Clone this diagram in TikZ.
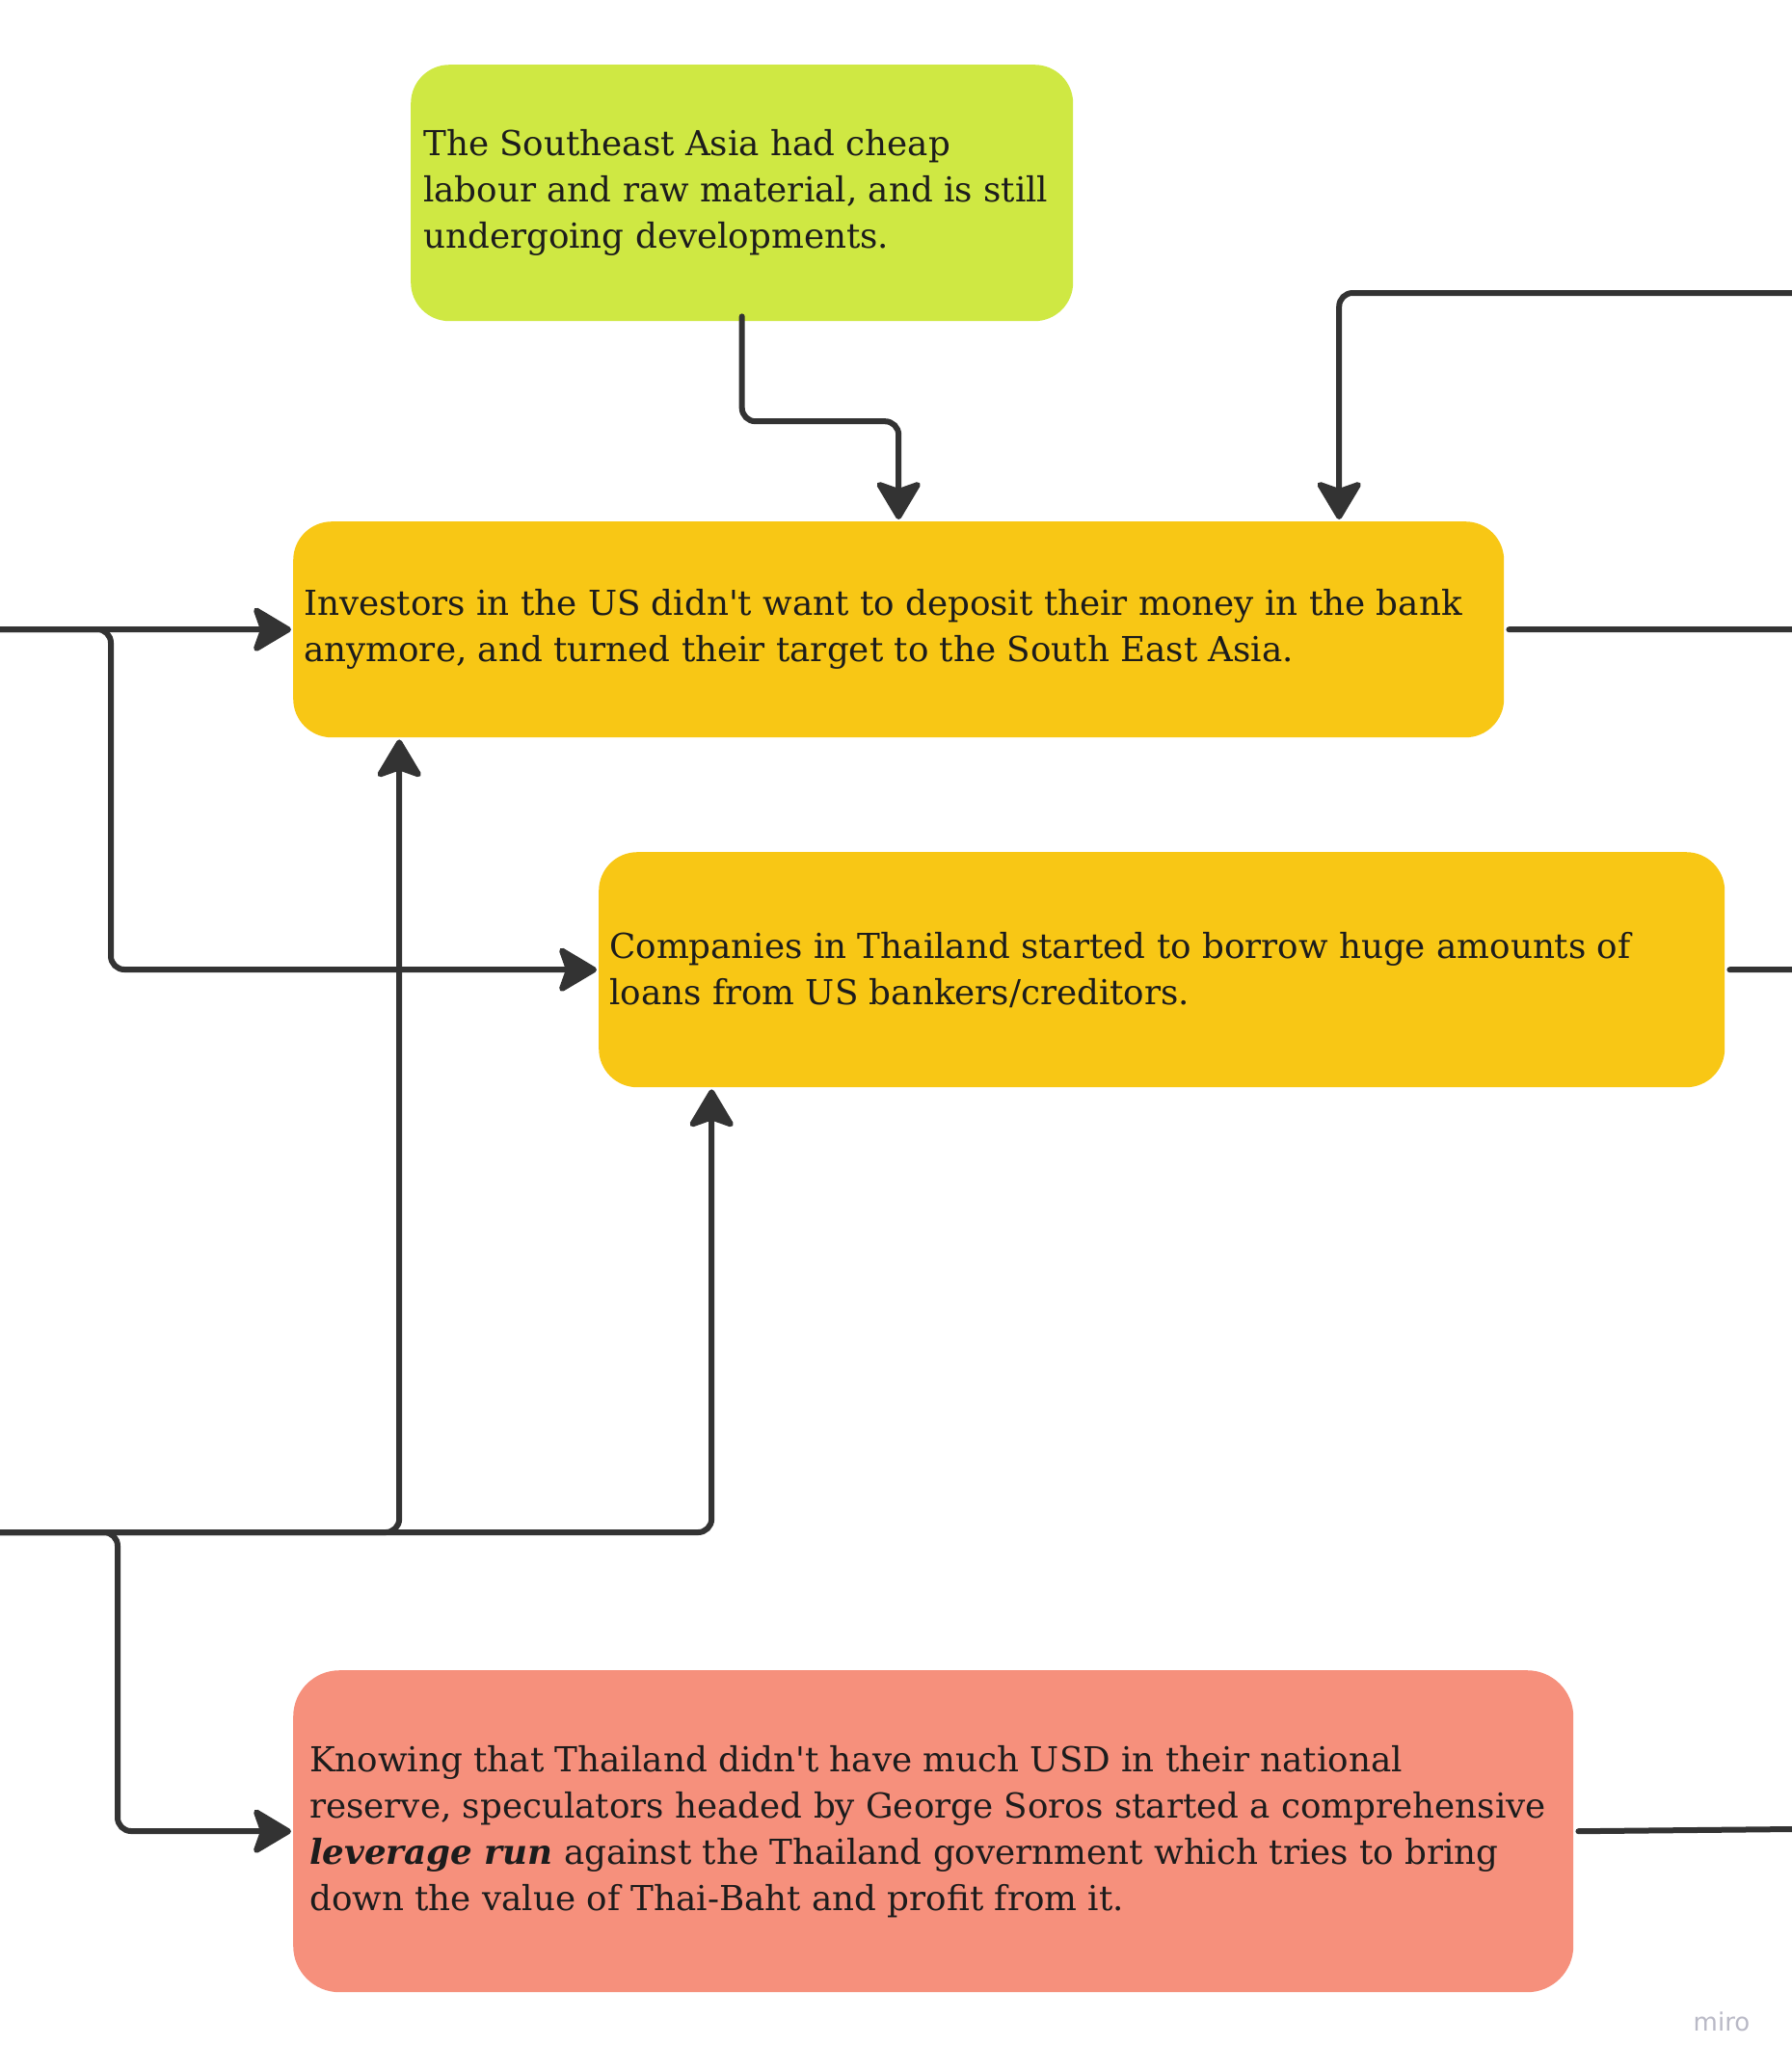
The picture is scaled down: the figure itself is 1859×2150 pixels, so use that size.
\documentclass[tikz,border=0pt]{standalone}
\usepackage{fontspec}
\setmainfont{DejaVu Serif}
\newfontfamily\markfont{DejaVu Sans}
\usetikzlibrary{arrows.meta,calc}
\definecolor{limebox}{HTML}{CFE843}
\definecolor{goldbox}{HTML}{F8C715}
\definecolor{salmonbox}{HTML}{F6907C}
\definecolor{wirecol}{HTML}{333333}
\definecolor{ink}{HTML}{1C1C1C}
\definecolor{markgray}{HTML}{B9B9C6}
\newcommand{\apos}{\textquotesingle}
\begin{document}
\begin{tikzpicture}[x=1pt,y=-1pt,
  card/.style={rounded corners=40pt, draw=none, anchor=north west, inner sep=0pt},
  cardtext/.style={anchor=west, align=left, text=ink, inner sep=0pt,
    font=\fontsize{35.7}{48}\selectfont},
  wire/.style={draw=wirecol, line width=6pt, rounded corners=14pt, line cap=round},
  feed/.style={wire, -{Stealth[length=44pt,width=52pt,inset=9pt,round]}, shorten >=2pt},
]
% canvas
\path[fill=white, use as bounding box] (0,0) rectangle (1859,2150);

% boxes
\node[card, fill=limebox, minimum width=687pt, minimum height=266pt] (g) at (426,67) {};
\node[card, fill=goldbox, minimum width=1256pt, minimum height=224pt] (a) at (304,541) {};
\node[card, fill=goldbox, minimum width=1168pt, minimum height=244pt] (b) at (621,884) {};
\node[card, fill=salmonbox, minimum width=1328pt, minimum height=334pt, rounded corners=48pt] (s) at (304,1733) {};

% box texts
\node[cardtext] (gt) at ([xshift=13pt]g.west) {The Southeast Asia had cheap\\labour and raw material, and is still\\undergoing developments.};
\node[cardtext] (at) at ([xshift=11pt]a.west) {Investors in the US didn\apos t want to deposit their money in the bank\\anymore, and turned their target to the South East Asia.};
\node[cardtext] (bt) at ([xshift=11pt]b.west) {Companies in Thailand started to borrow huge amounts of\\loans from US bankers/creditors.};
\node[cardtext] (st) at ([xshift=17pt]s.west) {Knowing that Thailand didn\apos t have much USD in their national\\reserve, speculators headed by George Soros started a comprehensive\\\textbf{\textit{leverage run}} against the Thailand government which tries to bring\\down the value of Thai-Baht and profit from it.};

% free ends at the canvas edges
\coordinate (rtop) at (1859,304);
\coordinate (ra) at (1859,653);
\coordinate (rb) at (1859,1006);
\coordinate (rs) at (1859,1898);
\coordinate (lin) at (0,653);
\coordinate (lbot) at (0,1590);
\coordinate (kb) at (115,1006);
\coordinate (ks) at (122,1900);

% connectors
\draw[feed] ([yshift=5pt]g.south) |- ($(g.south)!0.5!(a.north)$) -| (a.north);
\draw[feed] (rtop) -| ([xshift=457pt]a.north);
\draw[wire] ([xshift=5pt]a.east) -- (ra);
\draw[feed] (lin) -- (a.west);
\draw[feed] (lin) -| (kb) -- (b.west);
\draw[wire] ([xshift=5pt]b.east) -- (rb);
\draw[feed] (lbot) -| ([xshift=-518pt]a.south);
\draw[feed] (lbot) -| ([xshift=-467pt]b.south);
\draw[feed] (lbot) -| (ks) -- (s.west);
\draw[wire] ([xshift=5pt]s.east) -- (rs);

% watermark
\node[text=markgray, font=\markfont\fontsize{26}{30}\selectfont] (mark) at (1786,2098) {miro};
\end{tikzpicture}
\end{document}
